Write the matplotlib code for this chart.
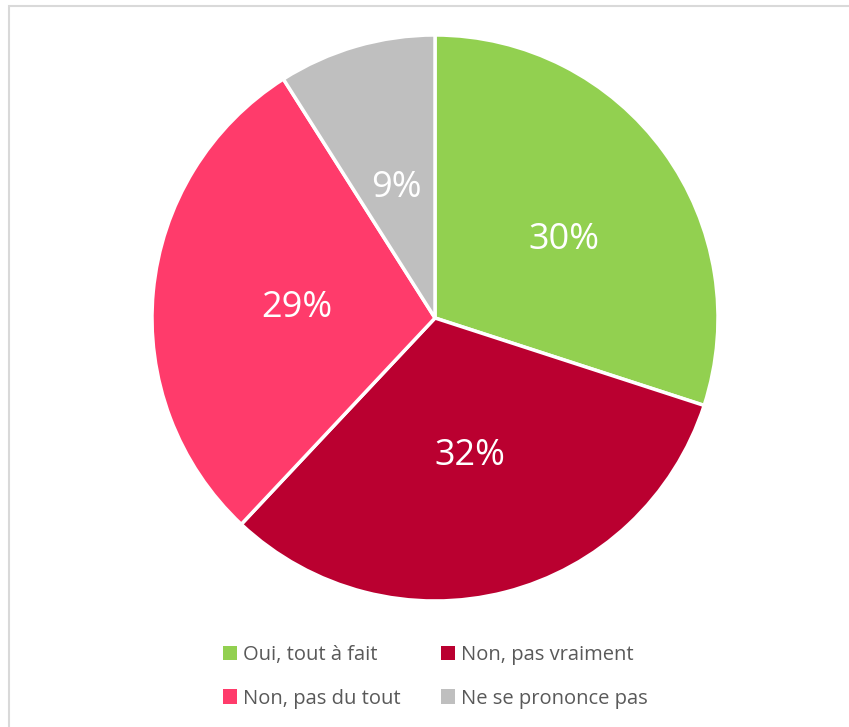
import matplotlib
matplotlib.use("Agg")
import matplotlib.pyplot as plt
from matplotlib.patches import Rectangle

labels = ["Oui, tout à fait", "Non, pas vraiment", "Non, pas du tout", "Ne se prononce pas"]
values = [30, 32, 29, 9]
colors = ["#92D050", "#BA0030", "#FF3B6B", "#BFBFBF"]

W, H = 849, 727
fig = plt.figure(figsize=(W / 100, H / 100), dpi=100)
fig.patch.set_facecolor("white")

# outer chart border (only left/top visible)
fig.patches.append(Rectangle((8.5 / W, -0.1), 1.2, 1 - 5.5 / H + 0.1,
                             transform=fig.transFigure, fill=False,
                             edgecolor="#D9D9D9", linewidth=1.5))

cx, cy, r = 435, 318, 283
ax = fig.add_axes([(cx - r) / W, (H - cy - r) / H, 2 * r / W, 2 * r / H])
wedges, texts, autotexts = ax.pie(
    values, colors=colors, startangle=90, counterclock=False,
    autopct=lambda p: f"{p:.0f}%", pctdistance=0.49,
    wedgeprops=dict(edgecolor="white", linewidth=2.5),
    textprops=dict(color="white", fontsize=26, family="Open Sans"))
for i, t in enumerate(autotexts):
    x, y = t.get_position()
    if i == 0:
        x += 0.06
    t.set_position((x, y - 0.012))
ax.set_xlim(-1, 1)
ax.set_ylim(-1, 1)
ax.set_aspect("equal")
ax.axis("off")

order = [0, 2, 1, 3]  # row-wise filling for 2 columns
leg = fig.legend([wedges[i] for i in order], [labels[i] for i in order],
                 ncol=2, loc="center",
                 bbox_to_anchor=(435 / W, 1 - 677 / H),
                 frameon=False, handlelength=0.7, handleheight=0.7,
                 handletextpad=0.3, columnspacing=2.0, labelspacing=1.15,
                 prop=dict(family="Open Sans", size=14.5))
for t in leg.get_texts():
    t.set_color("#595959")
for h in leg.legend_handles:
    h.set_edgecolor("none")
    h.set_linewidth(0)

fig.savefig("out.png", dpi=100)
